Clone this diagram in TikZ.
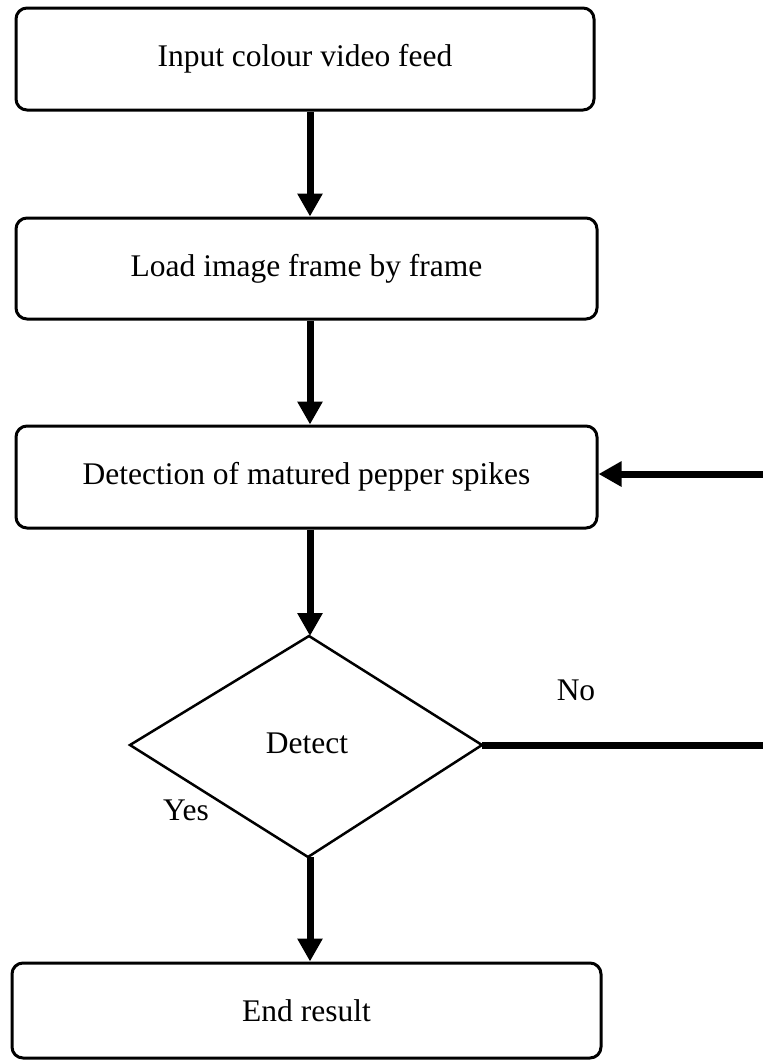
\documentclass[tikz,border=0pt]{standalone}
\usepackage{fontspec}
\setmainfont{Liberation Serif}
\usetikzlibrary{arrows.meta}
\begin{document}
\begin{tikzpicture}[x=1pt,y=-1pt,
  box/.style={draw=black, line width=3pt, rounded corners=11pt, inner sep=0pt},
  flow/.style={line width=7pt, -{Triangle[length=23pt,width=24pt]}},
  plain/.style={line width=7pt},
  lbl/.style={inner sep=0pt, font=\fontsize{31.5}{38}\selectfont}]
\useasboundingbox (0,0) rectangle (763,1061);
\node[box, lbl, minimum width=578pt, minimum height=102pt] (b1) at (305,59) {Input colour video feed};
\node[box, lbl, minimum width=581pt, minimum height=101pt] (b2) at (306.5,268.5) {Load image frame by frame};
\node[box, lbl, minimum width=581pt, minimum height=102pt] (b3) at (306.5,477) {Detection of matured pepper spikes};
\node[box, lbl, minimum width=589pt, minimum height=95pt] (b4) at (306.5,1010.5) {End result};
\coordinate (dt) at (309,636);
\coordinate (dl) at (130,745);
\coordinate (dr) at (482,745);
\coordinate (db) at (308,857);
\draw[line width=2.5pt, line join=miter] (dt) -- (dr) -- (db) -- (dl) -- cycle;
\node[lbl] (det) at (307,743) {Detect};
\node[lbl] (no) at (576,690) {No};
\node[lbl] (yes) at (186,810) {Yes};
\coordinate (re) at (763,745);
\coordinate (ri) at (763,474);
\draw[flow] (b1.south -| 310,0) -- (b2.north -| 310,0);
\draw[flow] (b2.south -| 310,0) -- (b3.north -| 310,0);
\draw[flow] (b3.south -| 310,0) -- (dt -| 310,0);
\draw[flow] (db -| 310,0) -- (b4.north -| 310,0);
\draw[plain] (dr) -- (re);
\draw[flow] (ri) -- (b3.east |- ri);
\end{tikzpicture}
\end{document}
